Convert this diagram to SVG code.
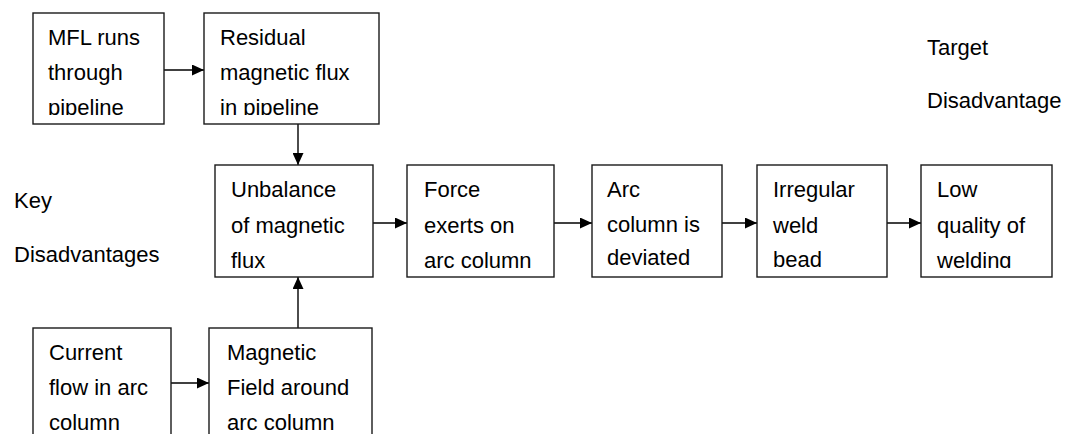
<svg xmlns="http://www.w3.org/2000/svg" width="1067" height="434" viewBox="0 0 1067 434">
<style>
.box{fill:#fff;stroke:#1a1a1a;stroke-width:1.4}
.t{font-family:"Liberation Sans",Arial,sans-serif;font-size:22px;fill:#000}
.c{stroke:#000;stroke-width:1.4;fill:none;marker-end:url(#ah)}
</style>
<defs>
<marker id="ah" markerUnits="userSpaceOnUse" markerWidth="13" markerHeight="11" refX="12" refY="5.5" orient="auto">
<path d="M0,0 L12,5.5 L0,11 z" fill="#000"/>
</marker>
<clipPath id="c1"><rect x="33" y="13" width="131" height="102"/></clipPath>
<clipPath id="c2"><rect x="204" y="13" width="175" height="102"/></clipPath>
<clipPath id="c3"><rect x="215" y="165" width="158" height="103"/></clipPath>
<clipPath id="c4"><rect x="407" y="165" width="147" height="103"/></clipPath>
<clipPath id="c5"><rect x="592" y="165" width="130" height="103"/></clipPath>
<clipPath id="c6"><rect x="757" y="165" width="130" height="103"/></clipPath>
<clipPath id="c7"><rect x="921" y="165" width="131" height="103"/></clipPath>
</defs>
<rect width="1067" height="434" fill="#fff"/>
<g id="connectors">
<line class="c" x1="164" y1="70" x2="204" y2="70"/>
<line class="c" x1="298" y1="124" x2="298" y2="165"/>
<line class="c" x1="373" y1="223" x2="407" y2="223"/>
<line class="c" x1="554" y1="223" x2="592" y2="223"/>
<line class="c" x1="722" y1="223" x2="757" y2="223"/>
<line class="c" x1="887" y1="223" x2="921" y2="223"/>
<line class="c" x1="171" y1="383" x2="209" y2="383"/>
<line class="c" x1="298" y1="328" x2="298" y2="277"/>
</g>
<g id="n1">
<rect class="box" x="33" y="13" width="131" height="111"/>
<g clip-path="url(#c1)"><text class="t" x="48" y="45">MFL runs</text><text class="t" x="48" y="80">through</text><text class="t" x="48" y="115">pipeline</text></g>
</g>
<g id="n2">
<rect class="box" x="204" y="13" width="175" height="111"/>
<g clip-path="url(#c2)"><text class="t" x="220" y="45">Residual</text><text class="t" x="220" y="80">magnetic flux</text><text class="t" x="220" y="115">in pipeline</text></g>
</g>
<g id="n3">
<rect class="box" x="215" y="165" width="158" height="112"/>
<g clip-path="url(#c3)"><text class="t" x="231" y="197">Unbalance</text><text class="t" x="231" y="233">of magnetic</text><text class="t" x="231" y="268">flux</text></g>
</g>
<g id="n4">
<rect class="box" x="407" y="165" width="147" height="112"/>
<g clip-path="url(#c4)"><text class="t" x="424" y="197">Force</text><text class="t" x="424" y="233">exerts on</text><text class="t" x="424" y="268">arc column</text></g>
</g>
<g id="n5">
<rect class="box" x="592" y="165" width="130" height="112"/>
<g clip-path="url(#c5)"><text class="t" x="607" y="197">Arc</text><text class="t" x="607" y="232">column is</text><text class="t" x="607" y="265">deviated</text></g>
</g>
<g id="n6">
<rect class="box" x="757" y="165" width="130" height="112"/>
<g clip-path="url(#c6)"><text class="t" x="773" y="197">Irregular</text><text class="t" x="773" y="233">weld</text><text class="t" x="773" y="267">bead</text></g>
</g>
<g id="n7">
<rect class="box" x="921" y="165" width="131" height="112"/>
<g clip-path="url(#c7)"><text class="t" x="937" y="197">Low</text><text class="t" x="937" y="233">quality of</text><text class="t" x="937" y="268">welding</text></g>
</g>
<g id="n8">
<rect class="box" x="33" y="328" width="138" height="120"/>
<text class="t" x="49" y="360">Current</text><text class="t" x="49" y="395">flow in arc</text><text class="t" x="49" y="430">column</text>
</g>
<g id="n9">
<rect class="box" x="209" y="328" width="163" height="120"/>
<text class="t" x="227" y="360">Magnetic</text><text class="t" x="227" y="395">Field around</text><text class="t" x="227" y="430">arc column</text>
</g>
<g id="labels">
<text class="t" x="14" y="208">Key</text>
<text class="t" x="14" y="262">Disadvantages</text>
<text class="t" x="927" y="55">Target</text>
<text class="t" x="927" y="108">Disadvantage</text>
</g>
</svg>
